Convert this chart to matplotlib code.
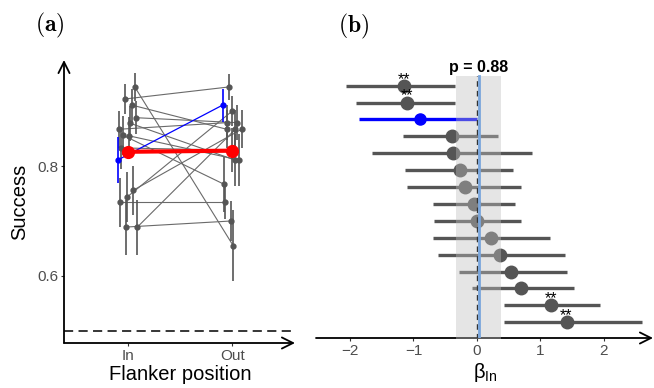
import matplotlib
matplotlib.use('Agg')
import matplotlib.pyplot as plt
import numpy as np

plt.rcParams['font.family'] = ['Liberation Sans', 'DejaVu Sans']

# ---- panel (a): success per subject, flanker in vs out
positions = ['In', 'Out']
x_in = [1.067, 0.971, 1.038, 1.079, 1.022, 0.920, 0.955, 1.012, 0.936, 1.053, 0.996, 0.929, 0.984, 1.092]
succ_in = [0.944, 0.922, 0.911, 0.888, 0.878, 0.867, 0.856, 0.855, 0.833, 0.756, 0.744, 0.734, 0.689, 0.689]
err_in = [0.025, 0.028, 0.030, 0.030, 0.032, 0.034, 0.035, 0.035, 0.038, 0.045, 0.045, 0.045, 0.050, 0.050]
x_out = [2.009, 1.970, 1.946, 2.041, 2.025, 1.951, 1.920, 2.066, 2.000, 2.089, 1.999, 1.929, 1.987, 2.030]
succ_out = [0.655, 0.944, 0.867, 0.879, 0.811, 0.879, 0.767, 0.811, 0.829, 0.867, 0.900, 0.734, 0.700, 0.867]
err_out = [0.065, 0.024, 0.035, 0.032, 0.047, 0.032, 0.050, 0.047, 0.040, 0.035, 0.027, 0.030, 0.036, 0.035]
blue_x = [0.904, 1.908]
blue_succ = [0.811, 0.911]
blue_err = [0.042, 0.030]
mean_succ = [0.826, 0.828]
chance = 0.5

# ---- panel (b): beta_In per subject (top to bottom)
beta = [-1.155, -1.10, -0.89, -0.40, -0.37, -0.26, -0.19, -0.05, 0.005, 0.215, 0.37, 0.53, 0.70, 1.16, 1.41]
beta_lo = [-2.06, -1.90, -1.85, -1.16, -1.65, -1.13, -1.10, -0.70, -0.67, -0.70, -0.61, -0.29, -0.08, 0.43, 0.42]
beta_hi = [-0.34, -0.34, 0.0, 0.33, 0.86, 0.57, 0.70, 0.60, 0.70, 1.15, 1.39, 1.41, 1.53, 1.94, 2.60]
signif = [True, True, False, False, False, False, False, False, False, False, False, False, False, True, True]
blue_row = 2
mean_beta = 0.03
mean_ci = [-0.325, 0.385]
p_label = 'p = 0.88'

W, H = 654, 388
fig = plt.figure(figsize=(W / 100, H / 100), dpi=100)

grey = '#555555'

# ================= (a)
axA = fig.add_axes([64 / W, 1 - 343 / H, 231 / W, 283 / H])
for i in range(len(succ_in)):
    axA.plot([x_in[i], x_out[i]], [succ_in[i], succ_out[i]], color='#6a6a6a', lw=0.8, zorder=2)
axA.errorbar(x_in, succ_in, yerr=err_in, fmt='o', color=grey, ms=3.5, elinewidth=1.2, capsize=0, zorder=3)
axA.errorbar(x_out, succ_out, yerr=err_out, fmt='o', color=grey, ms=3.5, elinewidth=1.2, capsize=0, zorder=3)
axA.plot(blue_x, blue_succ, color='#0000ff', lw=0.9, zorder=4)
axA.errorbar(blue_x, blue_succ, yerr=blue_err, fmt='o', color='#0000ff', ms=3.5, elinewidth=1.2, capsize=0, zorder=4)
axA.plot([1, 2], mean_succ, color='#ff0000', lw=3, marker='o', ms=8.5, zorder=5)
axA.axhline(chance, color='black', lw=1.1, linestyle=(0, (6, 3.5)), zorder=1)

axA.set_xlim(0.39, 2.60)
axA.set_ylim(0.478, 0.993)
axA.set_xticks([1, 2])
axA.set_xticklabels(positions)
axA.set_yticks([0.6, 0.8])
axA.set_yticklabels(['0.6', '0.8'])
axA.tick_params(length=2.2, width=0.8, color='#333333', labelsize=11, labelcolor='#4d4d4d')
axA.tick_params(axis='y', pad=2)
axA.tick_params(axis='x', pad=2)
for s in axA.spines.values():
    s.set_visible(False)
axA.annotate('', xy=(0, 1), xytext=(0, 0), xycoords='axes fraction',
             arrowprops=dict(arrowstyle='->', lw=1.3, color='black', mutation_scale=20, shrinkA=0, shrinkB=0))
axA.annotate('', xy=(1, 0), xytext=(0, 0), xycoords='axes fraction',
             arrowprops=dict(arrowstyle='->', lw=1.3, color='black', mutation_scale=20, shrinkA=0, shrinkB=0))

fig.text(20 / W, 1 - 202 / H, 'Success', rotation=90, ha='center', va='center', fontsize=14.5)
fig.text(180 / W, 1 - 375 / H, 'Flanker position', ha='center', va='center', fontsize=14.5)
fig.text(50 / W, 1 - 25 / H, r'$\mathbf{(a)}$', math_fontfamily='cm', ha='center', va='center', fontsize=17)

# ================= (b)
axB = fig.add_axes([316 / W, 1 - 338 / H, 337 / W, 278 / H])
n = len(beta)
rows = np.arange(n, 0, -1)
for i in range(n):
    c = '#0000ff' if i == blue_row else grey
    ms = 8 if i == blue_row else 9
    axB.plot([beta_lo[i], beta_hi[i]], [rows[i], rows[i]], color=c, lw=2.4, solid_capstyle='butt', zorder=2)
    axB.plot(beta[i], rows[i], 'o', color=c, ms=ms, zorder=3)
    if signif[i]:
        axB.text(beta[i], rows[i] + 0.12, '**', ha='center', va='baseline', fontsize=11.5, zorder=6)

band_top = n + 0.57
axB.fill_between(mean_ci, 0, band_top, color='#c0c0c0', alpha=0.4, lw=0, zorder=4)
axB.plot([0, 0], [0, band_top], color='#333333', lw=1, linestyle=(0, (4, 3)), zorder=5)
axB.plot([mean_beta, mean_beta], [0, band_top], color='#7aa6dc', lw=2, zorder=5)
axB.text(mean_beta, n + 1.1, p_label, ha='center', va='center', fontsize=11.5, fontweight='bold')

axB.set_xlim(-2.535, 2.772)
axB.set_ylim(0.07, n + 1.52)
axB.set_xticks([-2, -1, 0, 1, 2])
axB.set_xticklabels(['\u22122', '\u22121', '0', '1', '2'])
axB.set_yticks([])
axB.tick_params(length=2.2, width=0.8, color='#333333', labelsize=11, labelcolor='#4d4d4d', pad=2)
for s in axB.spines.values():
    s.set_visible(False)
axB.annotate('', xy=(1, 0), xytext=(0, 0), xycoords='axes fraction',
             arrowprops=dict(arrowstyle='->', lw=1.3, color='black', mutation_scale=20, shrinkA=0, shrinkB=0))

fig.text(485 / W, 1 - 372 / H, r'$\mathregular{\beta_{In}}$', ha='center', va='center', fontsize=14.5)
fig.text(354 / W, 1 - 26 / H, r'$\mathbf{(b)}$', math_fontfamily='cm', ha='center', va='center', fontsize=17)

fig.savefig('out.png', dpi=100)
